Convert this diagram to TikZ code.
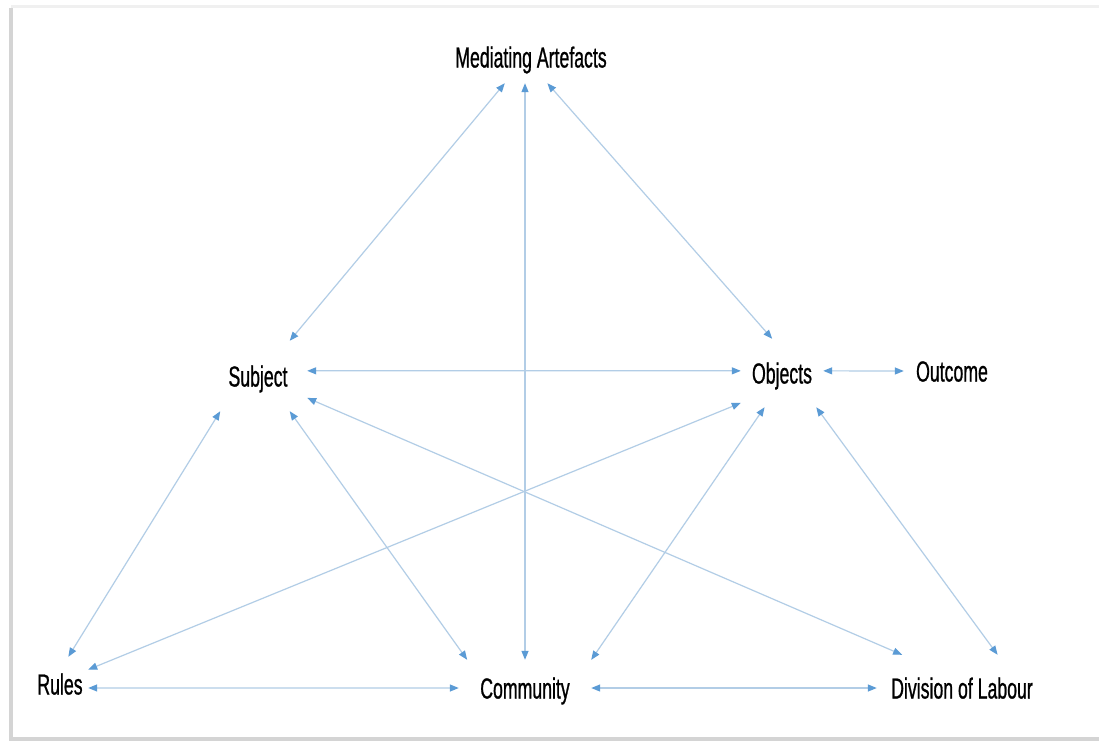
\documentclass[tikz,border=0pt]{standalone}
\usepackage{fontspec}
\newfontfamily\lblfont[FakeStretch=0.61, FakeBold=0.8]{Liberation Sans}
\usepackage{tikz}
\usetikzlibrary{arrows.meta}
\definecolor{LineBlue}{HTML}{B2CDE6}
\definecolor{HeadBlue}{HTML}{5B9BD5}
\definecolor{FrameGray}{HTML}{D4D4D4}
\tikzset{
  % Label styles
  lbl/.style={rectangle, inner sep=0pt, text height=21pt, text depth=0pt, font=\lblfont\fontsize{29}{32}\selectfont, text=black},
  % Arrow styles
  >={Triangle[length=9pt, width=7pt, color=HeadBlue]},
  link/.style={<->, draw=LineBlue, line width=1.2pt}
}
\begin{document}
\begin{tikzpicture}[x=1pt, y=-1pt]
  % Page frame with shadow
  \fill[white] (0,0) rectangle (1099,742);
  \fill[FrameGray] (9,8) rectangle (1099,741);
  \fill[black!6] (11,5) rectangle (1099,8);
  \fill[white] (13,8) rectangle (1099,737);
  \useasboundingbox (0,0) rectangle (1099,742);

  % Activity system nodes
  \node[lbl, minimum width=160pt, minimum height=52pt] (ma) at (531,57) {Mediating Artefacts};
  \node[lbl, minimum width=98pt, minimum height=70pt] (sub) at (258,376) {Subject};
  \node[lbl, minimum width=82pt, minimum height=68pt] (obj) at (782,373) {Objects};
  \node[lbl, minimum width=96pt, minimum height=40pt] (out) at (952,371) {Outcome};
  \node[lbl, minimum width=56pt, minimum height=54pt] (rul) at (60,684) {Rules};
  \node[lbl, minimum width=132pt, minimum height=56pt] (com) at (525,688) {Community};
  \node[lbl, minimum width=170pt, minimum height=66pt] (div) at (962,688) {Division of Labour};

  % Top triangle
  \draw[link] (ma.-135) -- (sub.48);
  \draw[link] (ma.-58) -- (obj.106);
  \draw[link] (com) -- (com |- ma.south);
  \draw[link] (sub.6) -- (obj.177);
  \draw[link] (obj.3) -- (out.180);

  % Links to the base
  \draw[link] (sub.-137) -- (rul.73);
  \draw[link] (sub.-48) -- (com.154);
  \draw[link] (sub.-24) -- (div.151);
  \draw[link] (obj.-144) -- (rul.27);
  \draw[link] (obj.-117) -- (com.23);
  \draw[link] (obj.-45) -- (div.43);

  % Base line
  \draw[link] (rul.-8) -- (com.180);
  \draw[link] (com.0) -- (div.180);
\end{tikzpicture}
\end{document}
